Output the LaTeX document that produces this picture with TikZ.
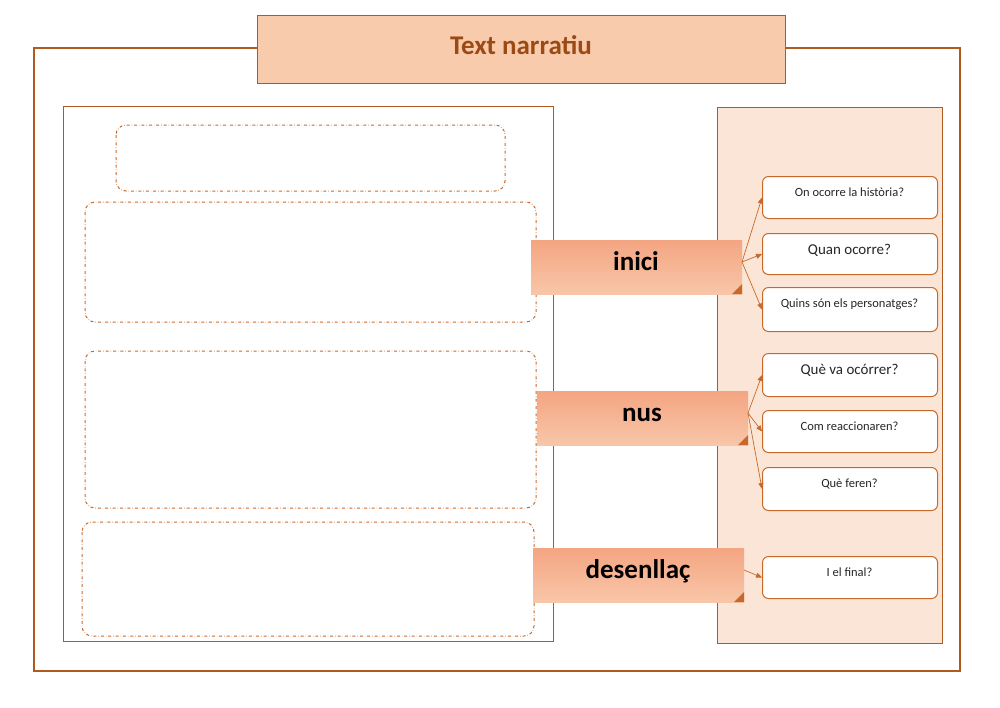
\documentclass[tikz,border=0pt]{standalone}
\usepackage{fontspec}
\setmainfont{Carlito}
\usetikzlibrary{arrows.meta}
\definecolor{brn}{HTML}{B05A1E}
\definecolor{ttltxt}{HTML}{9C4A14}
\definecolor{ln}{HTML}{C8692A}
\definecolor{lab}{HTML}{F4A582}
\definecolor{lab2}{HTML}{F8C6A8}
\definecolor{panel}{HTML}{FBE5D6}
\definecolor{ttl}{HTML}{F8CBAD}
\begin{document}
\begin{tikzpicture}[x=1pt,y=-1pt,
  dbox/.style={draw=ln,dash dot,rounded corners=10pt,line width=1pt},
  qbox/.style={draw=ln,fill=white,rounded corners=6pt,line width=1pt},
  arr/.style={draw=ln,line width=0.7pt,-{Triangle[length=6pt,width=5pt]}}]
\useasboundingbox (0,0) rectangle (1000,707);
\draw[brn,line width=1.2pt] (34,48) rectangle (960,671);
\node[draw=brn,fill=ttl,line width=1pt,minimum width=528pt,minimum height=68pt,anchor=north west,inner sep=0pt] (title) at (257,15) {};
\node[text=ttltxt,font=\bfseries\fontsize{27}{29}\selectfont] (tt) at (521,45) {Text narratiu};
\draw[brn,line width=1pt] (63,106) rectangle (553,641);
\draw[brn,fill=panel,line width=1pt] (717,107) rectangle (942,643);
\draw[dbox] (116,125) rectangle (505,191);
\draw[dbox] (85,202) rectangle (536,322);
\draw[dbox] (85,351) rectangle (536,508);
\draw[dbox] (82,522) rectangle (534,636);
\foreach \n/\t/\x/\y in {a/inici/531/240,b/nus/537/391,c/desenllaç/533/548}{
  \shade[top color=lab,bottom color=lab2] (\x,\y) rectangle ++(211,54);
  \fill[ln] (\x+211,\y+44) -- (\x+201,\y+54) -- (\x+211,\y+54) -- cycle;
  \coordinate (\n) at (\x+211,\y+22);
  \node[font=\bfseries\fontsize{27}{29}\selectfont,anchor=base] (\n t) at (\x+105,\y+30) {\t};
}
\foreach \n/\y/\h/\t in {q1/176/42/{On ocorre la història?},q2/233/41/{\fontsize{15}{17}\selectfont Quan ocorre?},q3/287/44/{Quins són els personatges?},q4/353/43/{\fontsize{15}{17}\selectfont Què va ocórrer?},q5/410/42/{Com reaccionaren?},q6/467/43/{Què feren?},q7/556/42/{I el final?}}{
  \node[qbox,minimum width=175pt,minimum height=\h pt,anchor=north west,inner sep=0pt] (\n) at (762,\y) {};
  \node[anchor=north,font=\fontsize{12.5}{14}\selectfont,text=black!85] at (849.5,\y+8) {\t};
}
\draw[arr] (a) -- (q1.west);
\draw[arr] (a) -- (q2.west);
\draw[arr] (a) -- (q3.west);
\draw[arr] (b) -- (q4.west);
\draw[arr] (b) -- (q5.west);
\draw[arr] (b) -- (q6.west);
\draw[arr] (c) -- (q7.west);
\end{tikzpicture}
\end{document}
